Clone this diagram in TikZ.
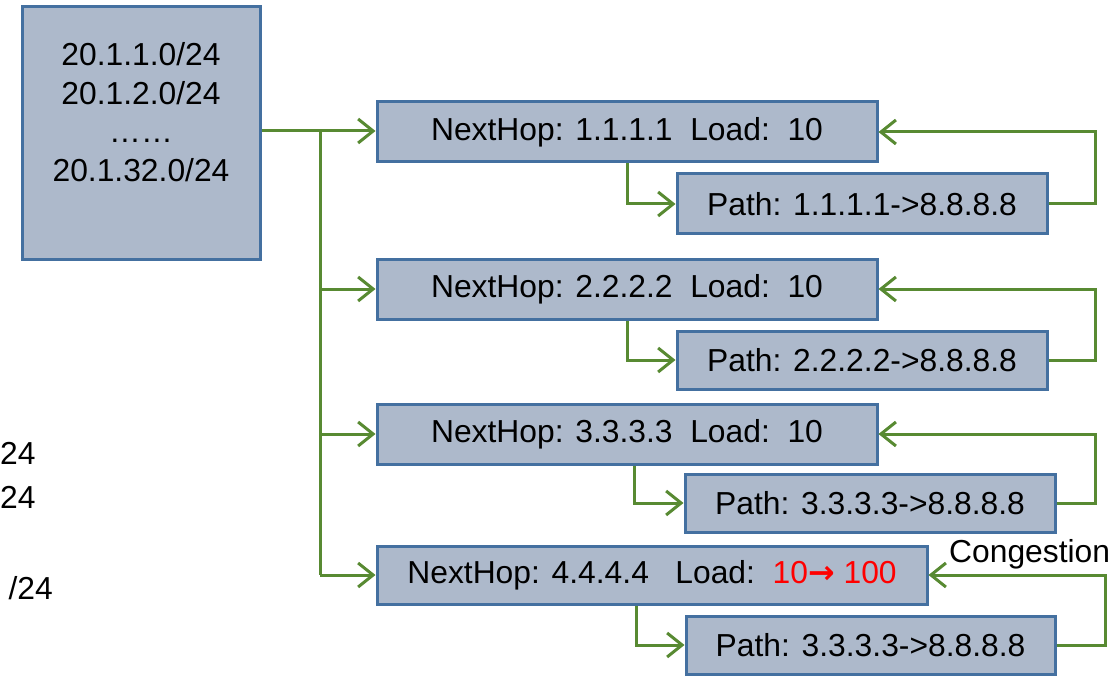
\documentclass[tikz,border=0pt]{standalone}
\usepackage{fontspec}
\setmainfont{Liberation Sans}
\newfontfamily\symfont{DejaVu Sans}
\usetikzlibrary{arrows.meta}
\definecolor{boxfill}{RGB}{173,185,203}
\definecolor{boxline}{RGB}{68,112,160}
\definecolor{linkgreen}{RGB}{88,138,50}
\tikzset{
  box/.style={draw=boxline, fill=boxfill, line width=3pt, inner sep=0pt},
  link/.style={draw=linkgreen, line width=3pt},
  tip/.style={link, -{Straight Barb[length=15pt,width=24pt,line width=3pt]}},
  lbl/.style={font=\fontsize{31.8}{39}\selectfont, inner sep=0pt}
}
\begin{document}
\begin{tikzpicture}[x=1pt,y=-1pt]
\clip (0,0) rectangle (1115,676);
\useasboundingbox (0,0) rectangle (1115,676);
\fill[white] (0,0) rectangle (1115,676);

% prefix list
\node[box, minimum width=238pt, minimum height=252pt] (pre) at (141,133) {};
\node[lbl, align=center] (pretext) at (141,112)
  {20.1.1.0/24\\20.1.2.0/24\\[-1pt]……\\20.1.32.0/24};

% list at the left edge
\node[lbl, anchor=west] (l1) at (0,453) {24};
\node[lbl, anchor=west] (l2) at (0,497) {24};
\node[lbl, anchor=east] (l3) at (53,588) {/24};

% next hops
\node[box, lbl, minimum width=500pt, minimum height=60pt] (n1) at (627,132)
  {NextHop: 1.1.1.1\ \ Load:\ \ 10};
\node[box, lbl, minimum width=500pt, minimum height=60pt] (n2) at (627,289)
  {NextHop: 2.2.2.2\ \ Load:\ \ 10};
\node[box, lbl, minimum width=500pt, minimum height=60pt] (n3) at (627,434)
  {NextHop: 3.3.3.3\ \ Load:\ \ 10};
\node[box, lbl, minimum width=550pt, minimum height=58pt] (n4) at (652,575)
  {NextHop: 4.4.4.4\ \ \ Load:\ \ {\color{red}10{\symfont\bfseries →}\ 100}};

% paths
\node[box, lbl, minimum width=370pt, minimum height=60pt] (p1) at (862,204)
  {Path: 1.1.1.1->8.8.8.8};
\node[box, lbl, minimum width=370pt, minimum height=58pt] (p2) at (862,360)
  {Path: 2.2.2.2->8.8.8.8};
\node[box, lbl, minimum width=370pt, minimum height=58pt] (p3) at (870,503)
  {Path: 3.3.3.3->8.8.8.8};
\node[box, lbl, minimum width=369pt, minimum height=58pt] (p4) at (870.5,645)
  {Path: 3.3.3.3->8.8.8.8};

% fan-out from the prefix list
\coordinate (trunk) at (320,131);
\draw[link] (pre.east |- trunk) -- (trunk);
\draw[link] (trunk) -- (320,575);
\draw[tip] (trunk) -- (n1.west |- trunk);
\draw[tip] (320,289) -- (n2.west);
\draw[tip] (320,434) -- (n3.west);
\draw[tip] (320,575) -- (n4.west);

% next hop to path
\draw[tip] (n1.south -| 627,0) |- (p1.west);
\draw[tip] (n2.south -| 627,0) |- (p2.west);
\draw[tip] (n3.south -| 634,0) |- (p3.west);
\draw[tip] (n4.south -| 636,0) |- (p4.west);

% feedback from path to next hop
\draw[tip] (p1.east) -- (1095,204) |- (n1.east);
\draw[tip] (p2.east) -- (1095,360) |- (n2.east);
\draw[tip] (p3.east) -- (1095,503) |- (n3.east);
\draw[tip] (p4.east) -- (1105,645) |- (n4.east);

\node[lbl, anchor=south west] (cong) at (949,569) {Congestion};
\end{tikzpicture}
\end{document}
